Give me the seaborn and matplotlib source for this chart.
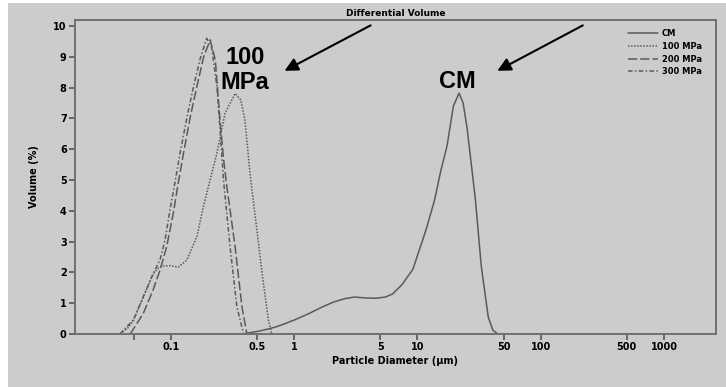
import matplotlib
matplotlib.use('Agg')
import matplotlib.pyplot as plt
from matplotlib.patches import Rectangle
import seaborn as sns
import pandas as pd

# particle diameter (um) / volume (%)
cm_x = [0.38, 0.45, 0.5, 0.6, 0.7, 0.8, 1.0, 1.3, 1.7, 2.1, 2.6, 3.1, 3.8, 4.6, 5.5,
        6.3, 7.5, 9.2, 11.8, 13.8, 15.5, 17.4, 19.6, 21.8, 23.5, 25.3, 29.6, 33, 37.6, 41, 45]
cm_y = [0, 0.05, 0.08, 0.15, 0.22, 0.3, 0.45, 0.65, 0.88, 1.04, 1.15, 1.2, 1.17, 1.16, 1.2,
        1.3, 1.6, 2.1, 3.4, 4.35, 5.3, 6.1, 7.4, 7.82, 7.5, 6.7, 4.35, 2.2, 0.55, 0.12, 0]

mpa100_x = [0.039, 0.045, 0.05, 0.06, 0.072, 0.08, 0.087, 0.1, 0.115, 0.135, 0.163, 0.184,
            0.202, 0.237, 0.276, 0.333, 0.37, 0.40, 0.44, 0.467, 0.50, 0.56, 0.62, 0.66]
mpa100_y = [0, 0.2, 0.45, 1.2, 1.95, 2.15, 2.21, 2.22, 2.17, 2.4, 3.16, 4.13,
            4.78, 5.87, 7.17, 7.81, 7.6, 6.95, 5.2, 4.35, 3.38, 1.75, 0.45, 0]

mpa200_x = [0.047, 0.06, 0.072, 0.082, 0.0927, 0.105, 0.115, 0.127, 0.145, 0.163, 0.185,
            0.209, 0.23, 0.251, 0.268, 0.285, 0.333, 0.378, 0.415]
mpa200_y = [0, 0.67, 1.43, 2.08, 2.83, 3.92, 4.89, 5.87, 7.1, 8.03, 9.0,
            9.55, 8.9, 6.95, 5.7, 4.8, 2.83, 0.89, 0]

mpa300_x = [0.0387, 0.0497, 0.06, 0.0723, 0.0818, 0.09, 0.0987, 0.108, 0.119, 0.135, 0.153,
            0.175, 0.196, 0.215, 0.237, 0.252, 0.268, 0.303, 0.344, 0.39]
mpa300_y = [0, 0.45, 1.21, 1.97, 2.4, 3.05, 4.03, 4.89, 5.87, 7.0, 8.03,
            9.0, 9.6, 9.3, 8.03, 6.6, 5.0, 2.83, 0.89, 0]

tick_vals = [0.05, 0.1, 0.5, 1, 5, 10, 50, 100, 500, 1000]
tick_labels = ['', '0.1', '0.5', '1', '5', '10', '50', '100', '500', '1000']

series = [
    ('CM', cm_x, cm_y, '-'),
    ('100 MPa', mpa100_x, mpa100_y, (0, (1, 1))),
    ('200 MPa', mpa200_x, mpa200_y, (0, (6, 2))),
    ('300 MPa', mpa300_x, mpa300_y, (0, (3, 1.5, 1, 1.5))),
]

sns.set_style('ticks')
plt.rcParams['font.family'] = ['DejaVu Sans']
plt.rcParams['font.weight'] = 'bold'
plt.rcParams['text.color'] = 'black'
plt.rcParams['axes.labelcolor'] = 'black'
plt.rcParams['xtick.labelcolor'] = 'black'
plt.rcParams['ytick.labelcolor'] = 'black'

bg = '#cccccc'
fig = plt.figure(figsize=(7.26, 3.87), dpi=100, facecolor='white')
fig.patches.append(Rectangle((8 / 726, 0), 1, 1 - 3 / 387, transform=fig.transFigure,
                             facecolor=bg, edgecolor='none', zorder=-10))
ax = fig.add_axes([75 / 726, 53 / 387, 641 / 726, 314 / 387])
ax.set_facecolor(bg)

for name, xs, ys, ls in series:
    df = pd.DataFrame({'x': xs, 'y': ys})
    sns.lineplot(data=df, x='x', y='y', ax=ax, color='#5a5a5a', linewidth=1.1,
                 linestyle=ls, label=name, sort=False)

ax.set_xscale('log')
ax.set_xlim(0.01675, 2642)
ax.set_ylim(0, 10.195)
ax.set_xticks(tick_vals)
ax.set_xticklabels(tick_labels)
ax.minorticks_off()
ax.set_yticks(range(0, 11))
ax.tick_params(labelsize=7, length=4, width=1.2, color='#555555', labelcolor='black', pad=2)
for s in ax.spines.values():
    s.set_color('#707070')
    s.set_linewidth(1.4)

ax.set_xlabel('Particle Diameter (µm)', fontsize=7, fontweight='bold', labelpad=3, color='black')
ax.set_ylabel('Volume (%)', fontsize=7, fontweight='bold', labelpad=10, color='black')
ax.set_title('Differential Volume', fontsize=6.5, fontweight='bold', pad=3, color='black')

leg = ax.legend(loc='upper right', frameon=False, fontsize=6, handlelength=3.6,
                labelspacing=0.45, bbox_to_anchor=(0.99, 0.995), handletextpad=0.5)
for t in leg.get_texts():
    t.set_fontweight('bold')
    t.set_color('black')

ax.text(0.265, 0.841, '100\nMPa', transform=ax.transAxes, ha='center', va='center',
        fontsize=17, fontweight='bold', family=['Liberation Sans', 'DejaVu Sans'],
        linespacing=1.1, color='black')
ax.text(0.596, 0.803, 'CM', transform=ax.transAxes, ha='center', va='center',
        fontsize=17, fontweight='bold', family=['Liberation Sans', 'DejaVu Sans'],
        color='black')

arrow = dict(arrowstyle='-|>', color='black', lw=1.5, mutation_scale=20)
ax.annotate('', xy=(0.323, 0.834), xytext=(0.465, 0.987), xycoords='axes fraction',
            textcoords='axes fraction', arrowprops=arrow)
ax.annotate('', xy=(0.655, 0.834), xytext=(0.796, 0.987), xycoords='axes fraction',
            textcoords='axes fraction', arrowprops=arrow)

fig.savefig('out.png', dpi=100, facecolor=fig.get_facecolor())
